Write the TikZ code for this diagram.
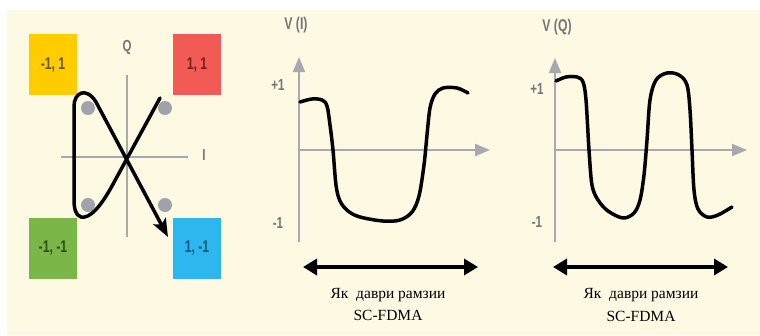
\documentclass[tikz,border=0pt]{standalone}
\usepackage{fontspec}
\setmainfont{Liberation Serif}
\newfontfamily\labfont{Liberation Sans}
\usetikzlibrary{arrows.meta}
\definecolor{cream}{HTML}{FEF9E3}
\definecolor{ybox}{HTML}{FFCC00}
\definecolor{ytxt}{HTML}{6B5800}
\definecolor{rbox}{HTML}{F15A55}
\definecolor{rtxt}{HTML}{7A1F1F}
\definecolor{gbox}{HTML}{7AB648}
\definecolor{gtxt}{HTML}{2E5018}
\definecolor{bbox}{HTML}{2DB7EE}
\definecolor{btxt}{HTML}{145A7A}
\definecolor{axisgray}{HTML}{A8A8B0}
\definecolor{dotgray}{HTML}{A2A2AA}
\definecolor{labgray}{HTML}{757575}
\tikzset{
  qbox/.style={minimum width=48pt, minimum height=61pt, inner sep=0pt,
    font=\labfont\bfseries\fontsize{17}{19}\selectfont},
  axisline/.style={draw=axisgray, line width=2pt},
  axisarrow/.style={axisline, -{Triangle[length=15pt,width=12pt]}},
  qdot/.style={circle, fill=dotgray, minimum size=14pt, inner sep=0pt},
  glabel/.style={text=labgray, font=\labfont\bfseries\fontsize{16}{18}\selectfont, inner sep=0pt},
  wave/.style={draw=black, line width=3.5pt, line cap=round, line join=round},
  span/.style={draw=black, line width=3.5pt, {Triangle[length=14pt,width=16pt]}-{Triangle[length=14pt,width=16pt]}},
  caption/.style={font=\fontsize{15.5}{18}\selectfont, inner sep=0pt}
}
\newcommand{\cond}[1]{\scalebox{0.72}[1]{#1}}
\begin{document}
\begin{tikzpicture}[x=1pt, y=-1pt]
\useasboundingbox (0,0) rectangle (760,335);
\fill[white] (0,0) rectangle (760,335);
\fill[cream] (7,10) rectangle (760,335);

% constellation boxes
\node[qbox, fill=ybox, text=ytxt] (b1) at (53,64.5) {\cond{-1, 1}};
\node[qbox, fill=rbox, text=rtxt] (b2) at (197,64.5) {\cond{1, 1}};
\node[qbox, fill=gbox, text=gtxt] (b3) at (53,248) {\cond{-1, -1}};
\node[qbox, fill=bbox, text=btxt] (b4) at (197,248) {\cond{1, -1}};

% constellation axes
\coordinate (qt) at (127,75);
\coordinate (qb) at (127,237);
\coordinate (il) at (61,157);
\coordinate (ir) at (188,157);
\draw[axisline] (qb) -- (qt);
\draw[axisline] (il) -- (ir);
\node[glabel] (qlab) at (127,47) {\cond{Q}};
\node[glabel] (ilab) at (204,155) {\cond{I}};

% dots
\node[qdot] (d1) at (88,108) {};
\node[qdot] (d2) at (165,108) {};
\node[qdot] (d3) at (88,205) {};
\node[qdot] (d4) at (165,205) {};

% trajectory
\draw[wave, -{Stealth[length=18pt,width=14pt,inset=4pt]}]
  (160,98) -- (112,186) .. controls (101,206) and (90,219) .. (81,217)
  .. controls (75,215) and (74,208) .. (74,198) -- (74,106)
  .. controls (74,93) and (86,86) .. (96,102) -- (168,237);

% V(I) graph
\coordinate (a1b) at (299,242);
\coordinate (a1t) at (299,57);
\coordinate (a1l) at (299,150);
\coordinate (a1r) at (490,150);
\draw[axisarrow] (a1b) -- (a1t);
\draw[axisarrow] (a1l) -- (a1r);
\node[glabel, font=\labfont\bfseries\fontsize{17}{19}\selectfont] (vi) at (296,25) {\cond{V (I)}};
\node[glabel] (p1) at (278,85) {\cond{+1}};
\node[glabel] (m1) at (278,223) {\cond{-1}};
\draw[wave] plot[smooth, tension=0.55] coordinates {
 (300,102) (312,99) (322,100) (327,106) (330,125) (333,150) (336,185) (340,201)
 (348,211) (360,217) (383,221) (400,220) (412,212) (419,196) (424,165) (427,135)
 (430,108) (435,94) (443,88) (457,88) (468,93)};
\coordinate (s1l) at (303,267);
\coordinate (s1r) at (478,267);
\draw[span] (s1l) -- (s1r);
\node[caption] (c1a) at (388,295) {Як~~даври рамзии};
\node[caption] (c1b) at (388,315) {SC-FDMA};

% V(Q) graph
\coordinate (a2b) at (555,242);
\coordinate (a2t) at (555,58);
\coordinate (a2l) at (555,150);
\coordinate (a2r) at (747,150);
\draw[axisarrow] (a2b) -- (a2t);
\draw[axisarrow] (a2l) -- (a2r);
\node[glabel, font=\labfont\bfseries\fontsize{17}{19}\selectfont] (vq) at (557,27) {\cond{V (Q)}};
\node[glabel] (p2) at (537,89) {\cond{+1}};
\node[glabel] (m2) at (537,222) {\cond{-1}};
\draw[wave] plot[smooth, tension=0.55] coordinates {
 (556,81) (566,77) (577,77) (583,82) (586,100) (589,150) (592,185) (598,200)
 (608,211) (623,218) (634,213) (640,200) (644,175) (647,140) (650,100) (656,80)
 (667,73) (679,75) (687,85) (690,110) (692,150) (694,190) (698,209) (707,217)
 (718,215) (732,207)};
\coordinate (s2l) at (553,267);
\coordinate (s2r) at (728,267);
\draw[span] (s2l) -- (s2r);
\node[caption] (c2a) at (641,295) {Як~~даври рамзии};
\node[caption] (c2b) at (641,316) {SC-FDMA};
\end{tikzpicture}
\end{document}
